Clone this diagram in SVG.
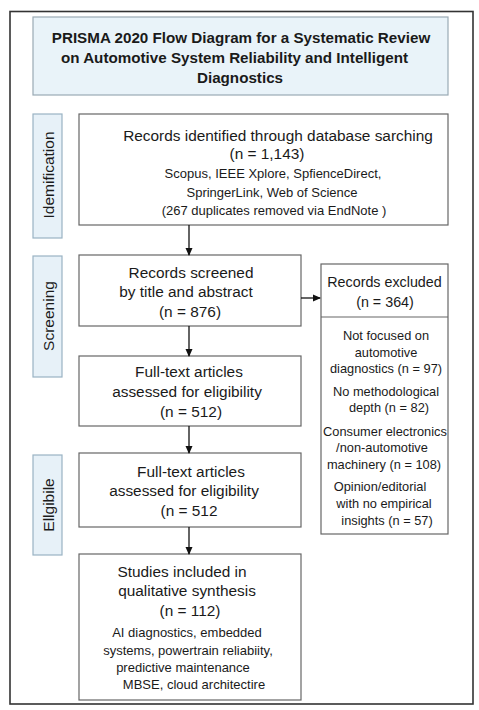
<svg xmlns="http://www.w3.org/2000/svg" width="479" height="710" viewBox="0 0 479 710">
<defs>
<marker id="ah" markerWidth="8" markerHeight="8" refX="7" refY="4" orient="auto" markerUnits="userSpaceOnUse">
<path d="M0,0.5 L8,4 L0,7.5 Z" fill="#111"/>
</marker>
<style>
text{font-family:"Liberation Sans",Arial,sans-serif;fill:#1a1a1a;text-anchor:middle;dominant-baseline:central}
.t{font-weight:bold;font-size:15.2px}
.m{font-size:15.4px}
.h{font-size:14.3px}
.s{font-size:13px}
.x{font-size:12.8px}
.lab{font-size:15.5px}
.box{fill:#fff;stroke:#666;stroke-width:1.2}
.side{fill:#e7f1f8;stroke:#9ab3c4;stroke-width:1.2}
.cn{stroke:#111;stroke-width:1.3;fill:none;marker-end:url(#ah)}
</style>
</defs>
<rect x="0" y="0" width="479" height="710" fill="#fff"/>
<rect id="frame" x="10" y="11.5" width="463" height="692.5" fill="#fff" stroke="#333" stroke-width="1.6"/>
<g id="title">
<rect x="33" y="17" width="415" height="78" fill="#e9f3f9" stroke="#9aaab4" stroke-width="1.2"/>
<text class="t" x="241" y="37">PRISMA 2020 Flow Diagram for a Systematic Review</text>
<text class="t" x="234.5" y="57">on Automotive System Reliability and Intelligent</text>
<text class="t" x="240" y="77">Diagnostics</text>
</g>
<g id="label-identification">
<rect class="side" x="33" y="114" width="29" height="124"/>
<text class="lab" transform="translate(48,175) rotate(-90)">Idemification</text>
</g>
<g id="label-screening">
<rect class="side" x="33" y="256" width="29" height="121"/>
<text class="lab" transform="translate(48,316) rotate(-90)">Screening</text>
</g>
<g id="label-eligible">
<rect class="side" x="33" y="455" width="29" height="100"/>
<text class="lab" transform="translate(48,505) rotate(-90)">Ellgibile</text>
</g>
<g id="identified">
<rect class="box" x="79" y="114" width="369" height="111"/>
<text class="m" x="278" y="135">Records identified through database sarching</text>
<text class="m" x="267" y="153">(n = 1,143)</text>
<text class="s" x="273" y="173">Scopus, IEEE Xplore, SpfienceDirect,</text>
<text class="s" x="272" y="192">SpringerLink, Web of Science</text>
<text class="s" x="274" y="210">(267 duplicates removed via EndNote )</text>
</g>
<g id="screened">
<rect class="box" x="79" y="255" width="222" height="71"/>
<text class="m" x="191" y="272">Records screened</text>
<text class="m" x="186" y="291">by title and abstract</text>
<text class="m" x="190" y="311">(n = 876)</text>
</g>
<g id="excluded">
<rect class="box" x="321" y="264" width="127" height="270"/>
<line x1="321" y1="317" x2="448" y2="317" stroke="#666" stroke-width="1.2"/>
<text class="h" x="384.5" y="282">Records excluded</text>
<text class="h" x="385" y="302">(n = 364)</text>
<text class="x" x="386" y="335">Not focused on</text>
<text class="x" x="386" y="352">automotive</text>
<text class="x" x="386" y="368">diagnostics (n = 97)</text>
<text class="x" x="386" y="391">No methodological</text>
<text class="x" x="389" y="407">depth (n = 82)</text>
<text class="x" x="385" y="431">Consumer electronics</text>
<text class="x" x="382" y="447">/non-automotive</text>
<text class="x" x="384" y="464">machinery (n = 108)</text>
<text class="x" x="380" y="486">Opinion/editorial</text>
<text class="x" x="384" y="503">with no empirical</text>
<text class="x" x="387" y="520">insights (n = 57)</text>
</g>
<g id="fulltext1">
<rect class="box" x="79" y="356" width="222" height="70"/>
<text class="m" x="189" y="371">Full-text articles</text>
<text class="m" x="187" y="391">assessed for eligibility</text>
<text class="m" x="191" y="411">(n = 512)</text>
</g>
<g id="fulltext2">
<rect class="box" x="79" y="453" width="222" height="74"/>
<text class="m" x="191" y="471">Full-text articles</text>
<text class="m" x="184" y="490">assessed for eligibility</text>
<text class="m" x="189" y="510">(n = 512</text>
</g>
<g id="included">
<rect class="box" x="79" y="554" width="222" height="146"/>
<text class="m" x="182" y="571">Studies included in</text>
<text class="m" x="187" y="590">qualitative synthesis</text>
<text class="m" x="190" y="610">(n = 112)</text>
<text class="s" x="187" y="632">AI diagnostics, embedded</text>
<text class="s" x="188" y="650">systems, powertrain reliabiity,</text>
<text class="s" x="183" y="667">predictive maintenance</text>
<text class="s" x="194" y="684">MBSE, cloud architectire</text>
</g>
<g id="connectors">
<line class="cn" x1="189" y1="225" x2="189" y2="255"/>
<line class="cn" x1="301" y1="298" x2="320" y2="298"/>
<line class="cn" x1="189" y1="326" x2="189" y2="356"/>
<line class="cn" x1="189" y1="426" x2="189" y2="453"/>
<line class="cn" x1="189" y1="527" x2="189" y2="554"/>
</g>
</svg>
